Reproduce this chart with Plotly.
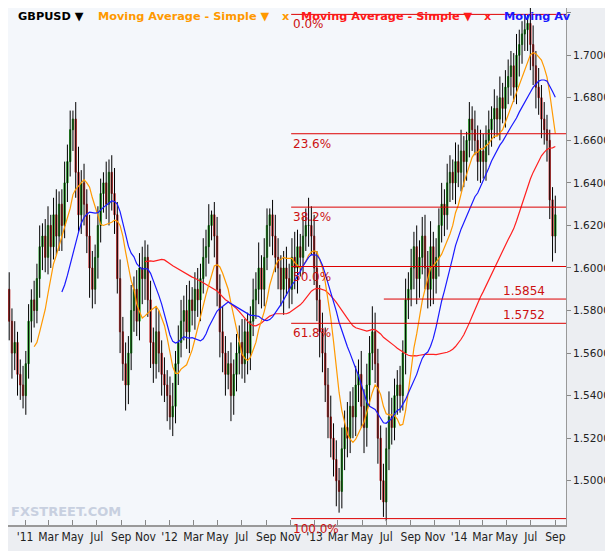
import plotly.graph_objects as go
import pandas as pd

start_date = "2010-11-22"
closes = [1.575,1.560,1.565,1.550,1.545,1.540,
          1.555,1.575,1.585,1.580,
          1.595,1.610,1.615,1.605,
          1.620,1.610,1.625,1.615,1.630,1.620,
          1.640,1.650,1.665,1.670,
          1.645,1.625,1.640,1.630,
          1.615,1.600,1.590,1.605,1.620,
          1.635,1.640,1.630,1.645,1.635,1.625,
          1.595,1.570,1.555,1.545,1.560,
          1.580,1.590,1.575,1.600,1.595,
          1.605,1.585,1.565,1.555,1.570,
          1.560,1.550,1.545,1.540,1.530,1.535,
          1.555,1.565,1.575,1.580,1.570,
          1.585,1.580,1.590,1.585,1.595,1.605,
          1.610,1.620,1.625,1.615,
          1.590,1.570,1.560,1.550,1.555,
          1.540,1.550,1.560,1.565,1.555,
          1.570,1.560,1.575,1.585,1.590,
          1.600,1.590,1.605,1.620,1.625,
          1.615,1.605,1.600,1.590,1.600,
          1.595,1.590,1.605,1.600,1.610,
          1.605,1.615,1.620,1.620,1.615,
          1.600,1.585,1.570,1.560,1.545,
          1.530,1.520,1.510,1.500,1.495,
          1.515,1.525,1.520,1.535,1.530,
          1.545,1.550,1.535,1.525,1.545,
          1.560,1.570,1.555,1.520,1.500,
          1.490,1.515,1.530,1.525,1.540,
          1.545,1.540,1.560,1.585,1.590,
          1.600,1.610,1.595,1.605,1.615,
          1.600,1.590,1.610,1.595,1.605,
          1.620,1.630,1.625,1.640,1.645,
          1.640,1.650,1.645,1.655,1.650,
          1.660,1.670,1.665,1.660,1.650,
          1.655,1.650,1.660,1.665,1.670,
          1.675,1.670,1.680,1.675,1.685,
          1.690,1.695,1.685,1.700,1.705,
          1.710,1.712,1.715,1.705,1.695,
          1.685,1.680,1.670,1.665,1.660,
          1.632,1.615,1.625]
first_open = 1.590
# upper / lower wick lengths in thousandths
wick_up = [8,6,10,5,7,9, 6,8,5,9, 7,10,6,8, 9,5,8,12,6,7, 10,8,9,4,
           8,12,6,9, 7,10,8,6,9, 7,5,10,6,8,12, 6,9,7,10,8, 12,6,9,7,10,
           8,6,9,7,12, 10,6,8,7,9,11, 6,8,10,7,12, 9,6,8,10,7,9, 8,10,2,6,
           9,7,12,8,6, 10,7,9,8,11, 6,9,7,10,8, 12,6,9,8,3, 7,10,9,6,8,
           10,7,9,12,8, 6,9,8,13,9, 10,8,7,9,12, 8,10,7,9,6, 10,8,12,7,9,
           9,7,11,8,10, 8,12,9,7,6, 8,10,12,9,8, 7,9,6,10,8, 9,7,10,8,9,
           10,8,12,7,9, 8,10,7,9,8, 6,9,8,10,7, 4,8,6,9,7, 10,8,7,9,6,
           9,6,10,7,8, 8,7,6,10,7, 6,7,4,8,9, 7,9,6,8,7, 5,6,9]
wick_dn = [9,12,8,10,7,6, 9,7,10,8, 6,9,11,7, 8,10,6,9,7,12, 6,9,7,10,
           12,8,9,10, 8,14,9,7,10, 8,9,7,10,8,9, 7,10,8,12,9, 8,10,7,9,12,
           10,8,12,9,7, 9,10,8,12,6,9, 8,10,7,9,8, 10,7,9,8,10,7, 9,8,7,10,
           8,12,9,10,7, 12,9,8,10,7, 9,10,8,7,9, 7,9,8,6,10, 9,7,10,8,12,
           8,9,7,10,12, 9,8,7,10,9, 8,10,12,9,8, 10,9,8,12,10, 8,10,9,7,10,
           9,8,10,12,9, 10,8,9,12,9, 7,9,10,8,6, 9,8,7,10,9, 8,10,12,9,8,
           10,9,8,12,7, 9,8,10,7,9, 8,10,7,9,12, 9,8,10,7,9, 10,8,9,7,8,
           9,8,10,7,9, 8,9,7,8,10, 9,8,10,12,9, 10,8,9,7,10, 9,12,8]

y_ticks = [1.50,1.52,1.54,1.56,1.58,1.60,1.62,1.64,1.66,1.68,1.70,1.72]
x_tick_dates = ["2011-01-01","2011-03-01","2011-05-01","2011-07-01","2011-09-01","2011-11-01",
                "2012-01-01","2012-03-01","2012-05-01","2012-07-01","2012-09-01","2012-11-01",
                "2013-01-01","2013-03-01","2013-05-01","2013-07-01","2013-09-01","2013-11-01",
                "2014-01-01","2014-03-01","2014-05-01","2014-07-01","2014-09-01"]
x_tick_labels = ["'11","Mar","May","Jul","Sep","Nov","'12","Mar","May","Jul","Sep","Nov",
                 "'13","Mar","May","Jul","Sep","Nov","'14","Mar","May","Jul","Sep"]
fib_labels = ["0.0%","23.6%","38.2%","50.0%","61.8%","100.0%"]
fib_levels = [1.7192,1.6631,1.6286,1.6007,1.5740,1.4822]
level_labels = ["1.5854","1.5752"]
level_values = [1.5854,1.5740]

n = len(closes)
dates = pd.date_range(start_date, periods=n, freq="7D")
opens = [first_open] + closes[:-1]
highs = [max(o, c) + w / 1000 for o, c, w in zip(opens, closes, wick_up)]
lows = [min(o, c) - w / 1000 for o, c, w in zip(opens, closes, wick_dn)]
s = pd.Series(closes, index=dates)
ma_orange = s.rolling(10).mean()
ma_blue = s.rolling(20).mean()
ma_red = s.rolling(50).mean()

fig = go.Figure()
wx, wy = [], []
for d, h, l in zip(dates, highs, lows):
    wx += [d, d, None]
    wy += [h, l, None]
fig.add_trace(go.Scatter(x=wx, y=wy, mode="lines", line=dict(color="black", width=1), hoverinfo="skip"))
fig.add_trace(go.Candlestick(x=dates, open=opens, close=closes,
                             high=[max(o, c) for o, c in zip(opens, closes)],
                             low=[min(o, c) for o, c in zip(opens, closes)],
                             increasing=dict(line=dict(color="#2ca02c", width=1), fillcolor="#33b033"),
                             decreasing=dict(line=dict(color="#c83a3a", width=1), fillcolor="#d04545"),
                             whiskerwidth=0))
fig.add_trace(go.Scatter(x=dates, y=ma_red, mode="lines", line=dict(color="#ff2020", width=1.2)))
fig.add_trace(go.Scatter(x=dates, y=ma_orange, mode="lines", line=dict(color="#ff9900", width=1.2)))
fig.add_trace(go.Scatter(x=dates, y=ma_blue, mode="lines", line=dict(color="#1a1aff", width=1.2)))

fib_start = "2012-11-03"
x_end = "2014-09-28"
for lab, lv in zip(fib_labels, fib_levels):
    fig.add_shape(type="line", x0=fib_start, x1=x_end, y0=lv, y1=lv, line=dict(color="#dd0000", width=1))
    fig.add_annotation(x=fib_start, y=lv, text=lab, showarrow=False, xanchor="left", yanchor="top",
                       xshift=0, yshift=-1, font=dict(size=12, color="#cc1111", family="DejaVu Sans"))
lvl_start = ["2013-06-25", "2013-06-25"]
for lab, lv, st in zip(level_labels, level_values, lvl_start):
    if lab == "1.5854":
        fig.add_shape(type="line", x0=st, x1=x_end, y0=lv, y1=lv, line=dict(color="#dd0000", width=1))
    fig.add_annotation(x="2014-06-15", y=lv, text=lab, showarrow=False, xanchor="center", yanchor="bottom",
                       yshift=-1, font=dict(size=12, color="#cc1111", family="DejaVu Sans"))

PW = 558
legend_items = [("GBPUSD ▼", "black", 8), ("Moving Average - Simple ▼", "#ff9900", 88),
                ("x", "#ff9900", 272), ("Moving Average - Simple ▼", "#ff1a1a", 291),
                ("x", "#ff1a1a", 474), ("Moving Av", "#1a1aff", 494)]
for txt, col, px in legend_items:
    fig.add_annotation(xref="paper", yref="paper", x=px / PW, y=1.0, yshift=0, text="<b>" + txt + "</b>",
                       showarrow=False, xanchor="left", yanchor="top",
                       font=dict(size=11.3, color=col, family="DejaVu Sans"))
fig.add_annotation(xref="paper", yref="paper", x=1 / PW, y=0.0, yshift=4, text="<b>FXSTREET.COM</b>",
                   showarrow=False, xanchor="left", yanchor="bottom",
                   font=dict(size=13, color="#c8d0e0", family="DejaVu Sans"))

fig.update_layout(
    width=605, height=543, showlegend=False,
    margin=dict(l=0, r=47, t=0, b=26, autoexpand=False),
    paper_bgcolor="#eceef2", plot_bgcolor="#f4f7fb",
    xaxis=dict(type="date", range=["2010-11-19", x_end], tickvals=x_tick_dates, ticktext=x_tick_labels,
               rangeslider=dict(visible=False), showgrid=False, ticks="inside", ticklen=5,
               tickcolor="#888", showline=True, linecolor="#999", linewidth=2, mirror=False,
               tickfont=dict(size=12, color="#222", family="DejaVu Sans Condensed"), zeroline=False),
    yaxis=dict(side="right", range=[1.4792, 1.7222], tickvals=y_ticks, tickformat=".4f",
               showgrid=False, ticks="outside", ticklen=4, tickcolor="#888", showline=True,
               linecolor="#999", tickfont=dict(size=10.5, color="#222", family="DejaVu Sans"), zeroline=False),
)
fig.write_html("out.html")
